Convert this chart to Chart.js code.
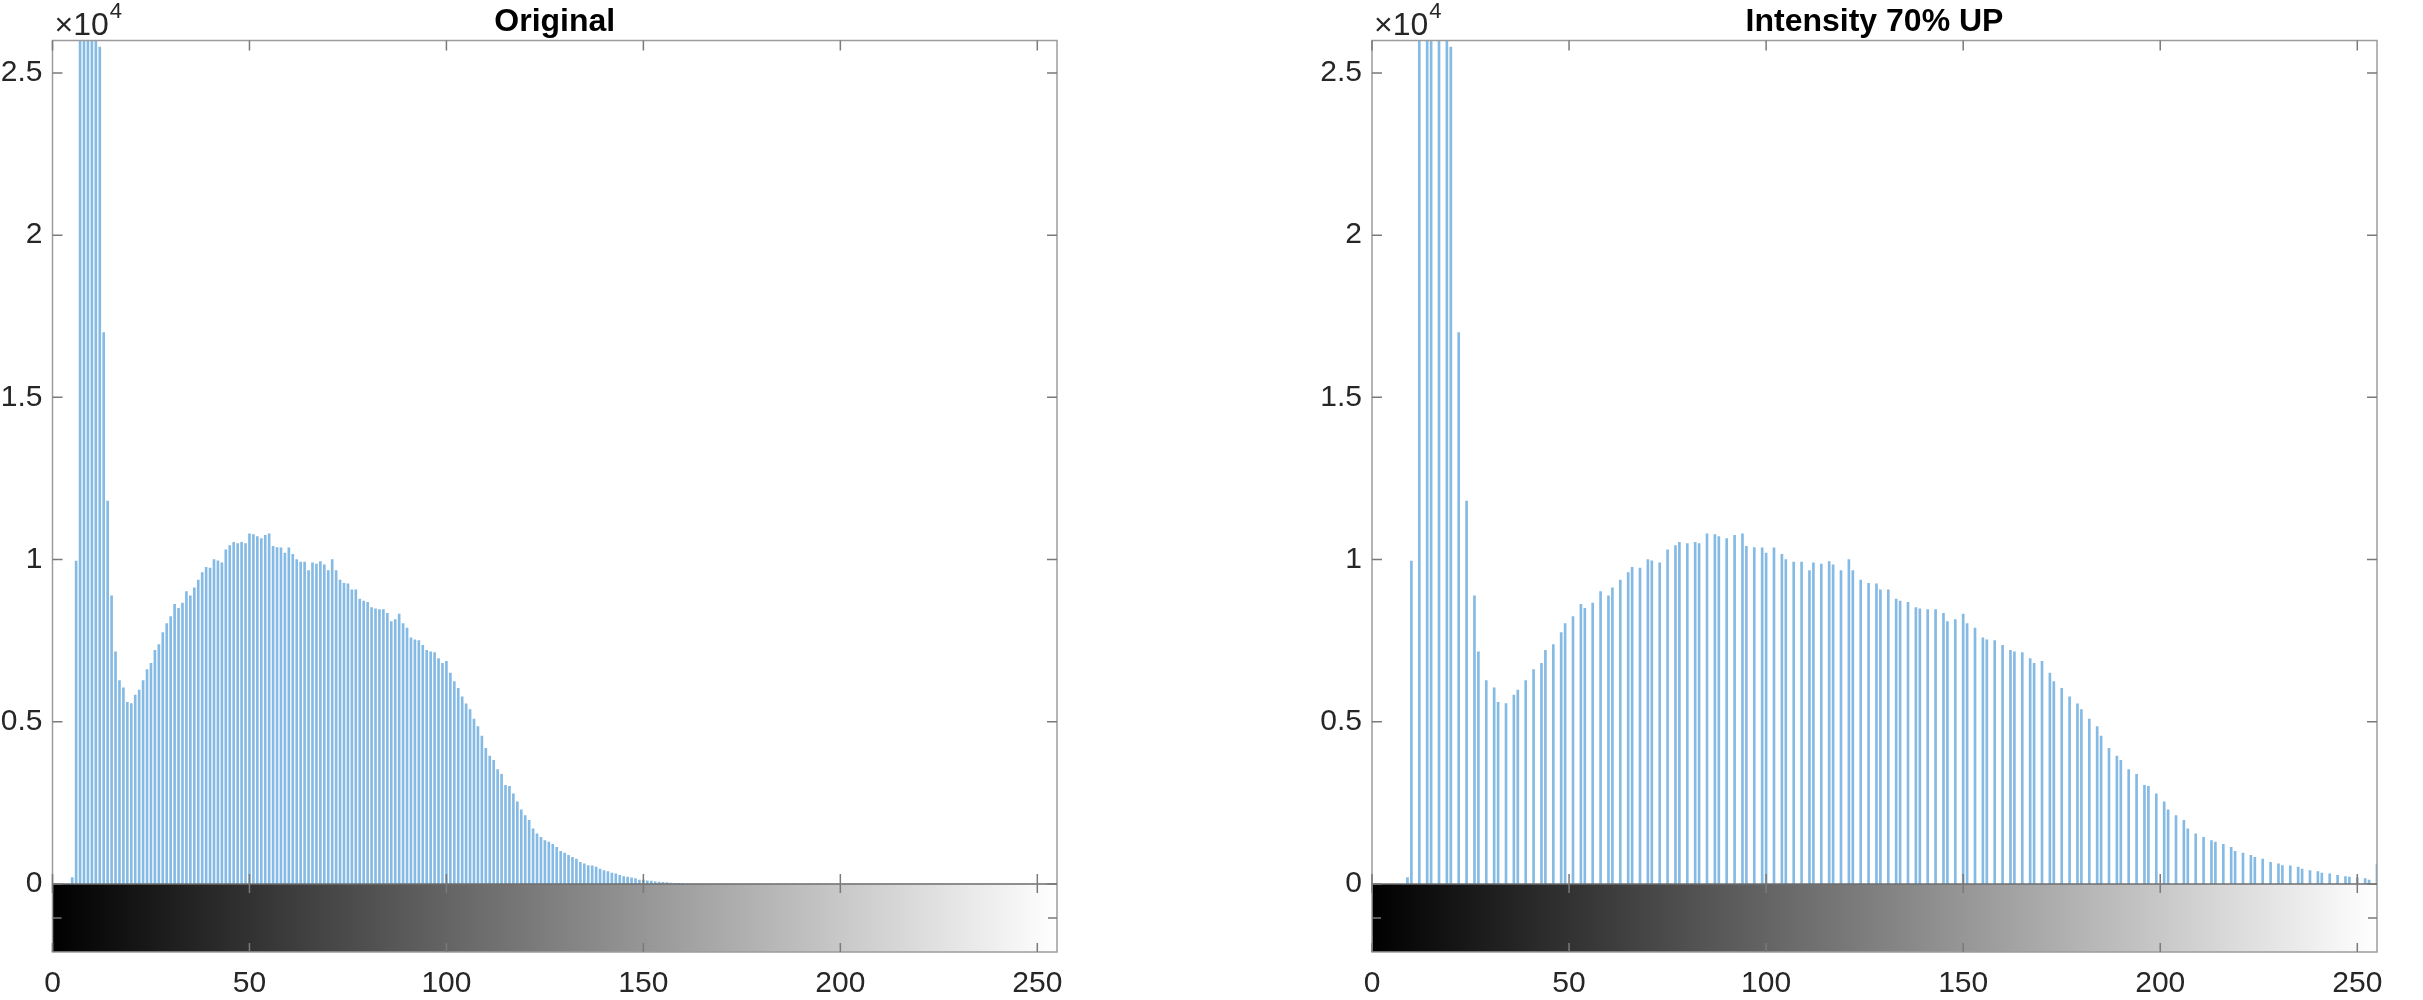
<!DOCTYPE html>
<html>
<head>
<meta charset="utf-8">
<title>Histograms</title>
<script src="https://cdn.jsdelivr.net/npm/chart.js@4.4.1/dist/chart.umd.min.js"></script>
<style>
  html, body { margin: 0; padding: 0; background: #fff; }
  #wrap { position: relative; width: 2423px; height: 1000px; }
  canvas { position: absolute; top: 0; }
  #leftCanvas { left: 0; }
  #rightCanvas { left: 1215px; }
</style>
</head>
<body>
<div id="wrap">
  <canvas id="leftCanvas" width="1215" height="1000"></canvas>
  <canvas id="rightCanvas" width="1208" height="1000"></canvas>
</div>
<script>
// pixel counts per gray level 0..255 of the original image
const originalCounts = [
  0, 0, 0, 0, 0, 200, 9950, 31000, 36000, 38000,
  35000, 30000, 25800, 17000, 11800, 8880, 7160, 6270, 6050, 5600,
  5560, 5820, 5980, 6270, 6610, 6800, 7200, 7380, 7750, 8030,
  8240, 8620, 8500, 8660, 9010, 8880, 9130, 9370, 9600, 9760,
  9740, 10000, 9960, 9900, 10300, 10430, 10530, 10490, 10530, 10490,
  10790, 10770, 10710, 10650, 10750, 10790, 10410, 10370, 10360, 10200,
  10360, 10160, 10000, 9920, 9920, 9660, 9900, 9860, 9940, 9840,
  9660, 10000, 9660, 9370, 9270, 9250, 9070, 9070, 8780, 8720,
  8680, 8520, 8480, 8460, 8460, 8340, 8090, 8150, 8320, 8030,
  7890, 7590, 7530, 7500, 7360, 7200, 7160, 7130, 6950, 6800,
  6860, 6500, 6240, 6030, 5770, 5550, 5380, 5080, 4850, 4560,
  4180, 3940, 3810, 3530, 3380, 3040, 3010, 2780, 2530, 2290,
  2110, 1960, 1700, 1550, 1440, 1340, 1290, 1220, 1130, 1010,
  950, 880, 820, 770, 670, 620, 570, 560, 520, 460,
  410, 380, 340, 310, 270, 230, 210, 190, 170, 120,
  120, 100, 90, 70, 60, 50, 40, 30, 20, 20,
  10, 0, 0, 0, 0, 0, 0, 0, 0, 0,
  0, 0, 0, 0, 0, 0, 0, 0, 0, 0,
  0, 0, 0, 0, 0, 0, 0, 0, 0, 0,
  0, 0, 0, 0, 0, 0, 0, 0, 0, 0,
  0, 0, 0, 0, 0, 0, 0, 0, 0, 0,
  0, 0, 0, 0, 0, 0, 0, 0, 0, 0,
  0, 0, 0, 0, 0, 0, 0, 0, 0, 0,
  0, 0, 0, 0, 0, 0, 0, 0, 0, 0,
  0, 0, 0, 0, 0, 0, 0, 0, 0, 0,
  0, 0, 0, 0, 0, 0
];

// brightened image: only these gray levels are occupied
const brightLevels = [
  9, 10, 12, 14, 15, 17, 19, 20, 22, 24, 26, 27, 29, 31, 32, 34, 36, 37, 39, 41,
  43, 44, 46, 48, 49, 51, 53, 54, 56, 58, 60, 61, 63, 65, 66, 68, 70, 71, 73, 75,
  77, 78, 80, 82, 83, 85, 87, 88, 90, 92, 94, 95, 97, 99, 100, 102, 104, 105, 107, 109,
  111, 112, 114, 116, 117, 119, 121, 122, 124, 126, 128, 129, 131, 133, 134, 136, 138, 139, 141, 143,
  145, 146, 148, 150, 151, 153, 155, 156, 158, 160, 162, 163, 165, 167, 168, 170, 172, 173, 175, 177,
  179, 180, 182, 184, 185, 187, 189, 190, 192, 194, 196, 197, 199, 201, 202, 204, 206, 207, 209, 211,
  213, 214, 216, 218, 219, 221, 223, 224, 226, 228, 230, 231, 233, 235, 236, 238, 240, 241, 243, 245,
  247, 248, 250, 252, 253, 255
];
const brightCounts = [
  200, 9950, 31000, 36000, 38000, 35000, 30000, 25800, 17000, 11800, 8880, 7160, 6270, 6050, 5600, 5560, 5820, 5980, 6270, 6610,
  6800, 7200, 7380, 7750, 8030, 8240, 8620, 8500, 8660, 9010, 8880, 9130, 9370, 9600, 9760, 9740, 10000, 9960, 9900, 10300,
  10430, 10530, 10490, 10530, 10490, 10790, 10770, 10710, 10650, 10750, 10790, 10410, 10370, 10360, 10200, 10360, 10160, 10000, 9920, 9920,
  9660, 9900, 9860, 9940, 9840, 9660, 10000, 9660, 9370, 9270, 9250, 9070, 9070, 8780, 8720, 8680, 8520, 8480, 8460, 8460,
  8340, 8090, 8150, 8320, 8030, 7890, 7590, 7530, 7500, 7360, 7200, 7160, 7130, 6950, 6800, 6860, 6500, 6240, 6030, 5770,
  5550, 5380, 5080, 4850, 4560, 4180, 3940, 3810, 3530, 3380, 3040, 3010, 2780, 2530, 2290, 2110, 1960, 1700, 1550, 1440,
  1340, 1290, 1220, 1130, 1010, 950, 880, 820, 770, 670, 620, 570, 560, 520, 460, 410, 380, 340, 310, 270,
  230, 210, 190, 170, 120, 610
];

const yTicks = [0, 5000, 10000, 15000, 20000, 25000];
const xTicks = [0, 50, 100, 150, 200, 250];

const FONT = '"Liberation Sans", Arial, Helvetica, sans-serif';
const STEM = 'rgb(132, 186, 228)';

// MATLAB-ish frame: inward ticks, grayscale colorbar, title and exponent label
const matlabFrame = {
  id: 'matlabFrame',
  afterDraw(chart, args, opts) {
    const { ctx, chartArea: a, scales: { x, y } } = chart;
    const cbTop = a.bottom;
    const cbBottom = a.bottom + 68;
    const x0 = x.getPixelForValue(0);
    const x1 = x.getPixelForValue(255);

    ctx.save();
    const grad = ctx.createLinearGradient(x0, 0, x1, 0);
    grad.addColorStop(0, '#000');
    grad.addColorStop(1, '#fff');
    ctx.fillStyle = grad;
    ctx.fillRect(x0, cbTop, x1 - x0, cbBottom - cbTop);

    ctx.strokeStyle = '#9c9c9c';
    ctx.lineWidth = 1.5;
    ctx.strokeRect(a.left, a.top, a.right - a.left, cbBottom - a.top);

    ctx.strokeStyle = '#6e6e6e';
    ctx.beginPath();
    ctx.moveTo(a.left, cbTop);
    ctx.lineTo(a.right, cbTop);
    ctx.stroke();

    ctx.strokeStyle = '#7a7a7a';
    ctx.beginPath();
    yTicks.forEach(v => {
      const py = y.getPixelForValue(v);
      ctx.moveTo(a.left, py); ctx.lineTo(a.left + 10, py);
      ctx.moveTo(a.right, py); ctx.lineTo(a.right - 10, py);
    });
    xTicks.forEach(v => {
      const px = x.getPixelForValue(v);
      ctx.moveTo(px, a.top); ctx.lineTo(px, a.top + 10);
      ctx.moveTo(px, cbTop - 10); ctx.lineTo(px, cbTop + 9);
      ctx.moveTo(px, cbBottom); ctx.lineTo(px, cbBottom - 9);
    });
    const cbMid = (cbTop + cbBottom) / 2;
    ctx.moveTo(a.left, cbMid); ctx.lineTo(a.left + 9, cbMid);
    ctx.moveTo(a.right, cbMid); ctx.lineTo(a.right - 9, cbMid);
    ctx.stroke();

    ctx.fillStyle = '#000';
    ctx.font = 'bold 32px ' + FONT;
    ctx.textAlign = 'center';
    ctx.textBaseline = 'alphabetic';
    ctx.fillText(opts.title, (a.left + a.right) / 2, 31);

    ctx.fillStyle = '#262626';
    ctx.textAlign = 'left';
    ctx.font = '32px ' + FONT;
    ctx.fillText('\u00d710', a.left + 2, 35);
    const w = ctx.measureText('\u00d710').width;
    ctx.font = '22px ' + FONT;
    ctx.fillText('4', a.left + 3 + w, 18);
    ctx.restore();
  }
};

function makeHistogram(canvasId, title, levels, counts, axisLeft, padRight) {
  const points = levels.map((lvl, i) => ({ x: lvl, y: counts[i] }));
  return new Chart(document.getElementById(canvasId), {
    type: 'bar',
    data: {
      datasets: [{
        data: points,
        backgroundColor: STEM,
        borderWidth: 0,
        barThickness: 2
      }]
    },
    options: {
      responsive: false,
      animation: false,
      events: [],
      layout: { padding: { top: 40.5, right: padRight, left: 0, bottom: 0 } },
      scales: {
        x: {
          type: 'linear',
          min: 0,
          max: 255,
          offset: false,
          grid: { display: false, drawTicks: false, offset: false },
          border: { display: false },
          ticks: {
            padding: 82,
            color: '#262626',
            font: { family: FONT, size: 30 }
          },
          afterBuildTicks: scale => { scale.ticks = xTicks.map(v => ({ value: v })); },
          afterFit: scale => {
            scale.height = 116;
            scale.paddingLeft = 0;
            scale.paddingRight = 0;
          }
        },
        y: {
          min: 0,
          max: 26000,
          grid: { display: false, drawTicks: false },
          border: { display: false },
          ticks: {
            padding: 10,
            color: '#262626',
            font: { family: FONT, size: 30 },
            callback: v => String(v / 10000)
          },
          afterBuildTicks: scale => { scale.ticks = yTicks.map(v => ({ value: v })); },
          afterFit: scale => {
            scale.width = axisLeft;
            scale.paddingTop = 0;
            scale.paddingBottom = 0;
          }
        }
      },
      plugins: {
        legend: { display: false },
        tooltip: { enabled: false },
        matlabFrame: { title: title }
      }
    },
    plugins: [matlabFrame]
  });
}

const originalLevels = originalCounts.map((c, i) => i);
makeHistogram('leftCanvas', 'Original', originalLevels, originalCounts, 52.5, 158);
makeHistogram('rightCanvas', 'Intensity 70% UP', brightLevels, brightCounts, 157, 46);
</script>
</body>
</html>
